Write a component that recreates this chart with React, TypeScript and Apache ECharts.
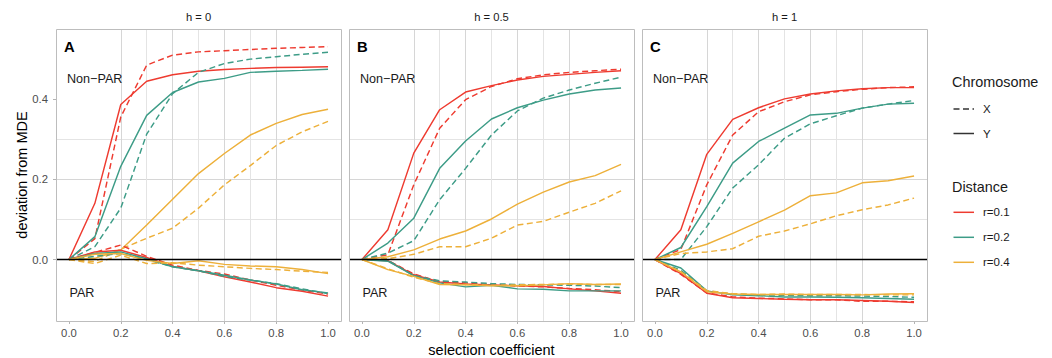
import React, { useEffect, useRef } from "react";
import * as echarts from "echarts";

// ---------- data ----------
const selection = [0, 0.1, 0.2, 0.3, 0.4, 0.5, 0.6, 0.7, 0.8, 0.9, 1.0];
const facetLabels = ["h = 0", "h = 0.5", "h = 1"];
const panelTags = ["A", "B", "C"];
const distanceLabels = ["r=0.1", "r=0.2", "r=0.4"];
const chromosomeLabels = ["X", "Y"];
const xTickValues = [0, 0.2, 0.4, 0.6, 0.8, 1.0];
const xMinorValues = [0.1, 0.3, 0.5, 0.7, 0.9];
const yTickValues = [0, 0.2, 0.4];
const yMinorValues = [-0.1, 0.1, 0.3, 0.5];
const xRange = [-0.05, 1.05];
const yRange = [-0.153, 0.574];

// h = 0
const h0_nonPAR_X_r01 = [0, 0.052, 0.355, 0.484, 0.509, 0.517, 0.52, 0.523, 0.526, 0.528, 0.53];
const h0_nonPAR_Y_r01 = [0, 0.14, 0.386, 0.444, 0.46, 0.469, 0.473, 0.476, 0.478, 0.479, 0.48];
const h0_nonPAR_X_r02 = [0, 0.032, 0.128, 0.312, 0.413, 0.466, 0.488, 0.499, 0.505, 0.511, 0.516];
const h0_nonPAR_Y_r02 = [0, 0.057, 0.232, 0.359, 0.416, 0.442, 0.451, 0.466, 0.469, 0.471, 0.474];
const h0_nonPAR_X_r04 = [0, -0.005, 0.026, 0.053, 0.078, 0.128, 0.186, 0.234, 0.284, 0.318, 0.344];
const h0_nonPAR_Y_r04 = [0, 0.003, 0.024, 0.086, 0.15, 0.214, 0.264, 0.31, 0.339, 0.361, 0.374];
const h0_PAR_X_r01 = [0, 0.018, 0.036, 0.008, -0.014, -0.027, -0.036, -0.051, -0.064, -0.076, -0.086];
const h0_PAR_Y_r01 = [0, 0.019, 0.023, 0.005, -0.017, -0.028, -0.043, -0.056, -0.07, -0.079, -0.091];
const h0_PAR_X_r02 = [0, 0.008, 0.015, 0.0, -0.018, -0.028, -0.042, -0.051, -0.06, -0.073, -0.085];
const h0_PAR_Y_r02 = [0, 0.015, 0.019, 0.002, -0.018, -0.028, -0.039, -0.051, -0.061, -0.075, -0.083];
const h0_PAR_X_r04 = [0, -0.01, 0.011, -0.01, -0.008, -0.014, -0.018, -0.022, -0.025, -0.029, -0.032];
const h0_PAR_Y_r04 = [0, 0.013, 0.015, -0.002, -0.01, -0.003, -0.012, -0.016, -0.018, -0.025, -0.035];

// h = 0.5
const h05_nonPAR_X_r01 = [0, 0.012, 0.186, 0.327, 0.398, 0.431, 0.45, 0.46, 0.466, 0.47, 0.474];
const h05_nonPAR_Y_r01 = [0, 0.074, 0.265, 0.373, 0.417, 0.433, 0.447, 0.456, 0.461, 0.466, 0.47];
const h05_nonPAR_X_r02 = [0, 0.016, 0.047, 0.149, 0.227, 0.31, 0.37, 0.402, 0.422, 0.439, 0.454];
const h05_nonPAR_Y_r02 = [0, 0.041, 0.103, 0.227, 0.295, 0.35, 0.378, 0.397, 0.412, 0.422, 0.427];
const h05_nonPAR_X_r04 = [0, 0.002, 0.013, 0.032, 0.032, 0.053, 0.086, 0.095, 0.118, 0.14, 0.171];
const h05_nonPAR_Y_r04 = [0, 0.007, 0.024, 0.051, 0.071, 0.101, 0.138, 0.168, 0.193, 0.209, 0.237];
const h05_PAR_X_r01 = [0, -0.002, -0.036, -0.055, -0.058, -0.062, -0.066, -0.068, -0.072, -0.075, -0.08];
const h05_PAR_Y_r01 = [0, -0.003, -0.038, -0.056, -0.061, -0.063, -0.065, -0.067, -0.073, -0.078, -0.084];
const h05_PAR_X_r02 = [0, -0.002, -0.04, -0.053, -0.056, -0.06, -0.062, -0.063, -0.064, -0.066, -0.07];
const h05_PAR_Y_r02 = [0, -0.004, -0.04, -0.058, -0.068, -0.064, -0.073, -0.074, -0.078, -0.078, -0.078];
const h05_PAR_X_r04 = [0, -0.023, -0.044, -0.06, -0.062, -0.064, -0.063, -0.062, -0.061, -0.062, -0.062];
const h05_PAR_Y_r04 = [0, -0.025, -0.042, -0.062, -0.063, -0.065, -0.065, -0.063, -0.06, -0.062, -0.061];

// h = 1
const h1_nonPAR_X_r01 = [0, 0.025, 0.186, 0.31, 0.368, 0.393, 0.41, 0.418, 0.424, 0.428, 0.43];
const h1_nonPAR_Y_r01 = [0, 0.074, 0.262, 0.349, 0.378, 0.4, 0.412, 0.42, 0.425, 0.428, 0.428];
const h1_nonPAR_X_r02 = [0, 0.0, 0.082, 0.178, 0.236, 0.302, 0.338, 0.358, 0.377, 0.387, 0.396];
const h1_nonPAR_Y_r02 = [0, 0.03, 0.132, 0.24, 0.294, 0.327, 0.36, 0.364, 0.377, 0.387, 0.389];
const h1_nonPAR_X_r04 = [0, 0.015, 0.019, 0.027, 0.058, 0.071, 0.089, 0.109, 0.124, 0.136, 0.153];
const h1_nonPAR_Y_r04 = [0, 0.019, 0.038, 0.065, 0.094, 0.123, 0.159, 0.166, 0.191, 0.196, 0.208];
const h1_PAR_X_r01 = [0, -0.037, -0.083, -0.093, -0.096, -0.098, -0.1, -0.1, -0.104, -0.104, -0.105];
const h1_PAR_Y_r01 = [0, -0.035, -0.084, -0.095, -0.097, -0.099, -0.1, -0.1, -0.102, -0.104, -0.107];
const h1_PAR_X_r02 = [0, -0.027, -0.078, -0.086, -0.088, -0.089, -0.09, -0.09, -0.091, -0.092, -0.094];
const h1_PAR_Y_r02 = [0, -0.021, -0.078, -0.088, -0.09, -0.093, -0.093, -0.094, -0.095, -0.097, -0.099];
const h1_PAR_X_r04 = [0, -0.03, -0.077, -0.085, -0.087, -0.086, -0.087, -0.087, -0.087, -0.088, -0.088];
const h1_PAR_Y_r04 = [0, -0.031, -0.08, -0.086, -0.087, -0.087, -0.087, -0.087, -0.088, -0.086, -0.085];

// table: panel -> region -> distance -> chromosome
const table = [
  [
    [[h0_nonPAR_X_r01, h0_nonPAR_Y_r01], [h0_nonPAR_X_r02, h0_nonPAR_Y_r02], [h0_nonPAR_X_r04, h0_nonPAR_Y_r04]],
    [[h0_PAR_X_r01, h0_PAR_Y_r01], [h0_PAR_X_r02, h0_PAR_Y_r02], [h0_PAR_X_r04, h0_PAR_Y_r04]],
  ],
  [
    [[h05_nonPAR_X_r01, h05_nonPAR_Y_r01], [h05_nonPAR_X_r02, h05_nonPAR_Y_r02], [h05_nonPAR_X_r04, h05_nonPAR_Y_r04]],
    [[h05_PAR_X_r01, h05_PAR_Y_r01], [h05_PAR_X_r02, h05_PAR_Y_r02], [h05_PAR_X_r04, h05_PAR_Y_r04]],
  ],
  [
    [[h1_nonPAR_X_r01, h1_nonPAR_Y_r01], [h1_nonPAR_X_r02, h1_nonPAR_Y_r02], [h1_nonPAR_X_r04, h1_nonPAR_Y_r04]],
    [[h1_PAR_X_r01, h1_PAR_Y_r01], [h1_PAR_X_r02, h1_PAR_Y_r02], [h1_PAR_X_r04, h1_PAR_Y_r04]],
  ],
];

// ---------- styles / layout ----------
const FONT = "'Liberation Sans', Arial, Helvetica, sans-serif";
const distanceColors = ["#EE3B30", "#3D9C87", "#EDB03A"];
const DASH = [6, 3.5];
const PANEL_LEFT = [56, 349, 642];
const PANEL_W = 285;
const PANEL_TOP = 29;
const PANEL_H = 292;
const BORDER = "#BDBDBD";
const MAJOR_GRID = "#D6D6D6";
const MINOR_GRID = "#E4E4E4";

const fmt = (v: number) => {
  const k = v / 0.2;
  if (Math.abs(k - Math.round(k)) > 1e-6) return "";
  const s = (Math.round(v * 10) / 10).toFixed(1);
  return s === "-0.0" ? "0.0" : s;
};

function buildOption() {
  const grids: any[] = [];
  const xAxes: any[] = [];
  const yAxes: any[] = [];
  const series: any[] = [];
  const graphic: any[] = [];

  for (let p = 0; p < 3; p++) {
    grids.push({
      left: PANEL_LEFT[p],
      top: PANEL_TOP,
      width: PANEL_W,
      height: PANEL_H,
      containLabel: false,
      show: true,
      backgroundColor: "#ffffff",
      borderWidth: 0,
    });
  }
  // minor axes first (indices 0..2)
  for (let p = 0; p < 3; p++) {
    xAxes.push({
      type: "value",
      gridIndex: p,
      position: "bottom",
      min: xRange[0],
      max: xRange[1],
      splitNumber: 11,
      minInterval: 0.1,
      maxInterval: 0.1,
      axisLine: { show: false, onZero: false },
      axisTick: { show: false, customValues: xMinorValues },
      axisLabel: { show: false, customValues: xMinorValues },
      splitLine: { show: true, showMinLine: false, showMaxLine: false, lineStyle: { color: MINOR_GRID, width: 1 } },
    });
    yAxes.push({
      type: "value",
      gridIndex: p,
      position: "left",
      min: yRange[0],
      max: yRange[1],
      splitNumber: 7,
      minInterval: 0.1,
      maxInterval: 0.1,
      axisLine: { show: false, onZero: false },
      axisTick: { show: false, customValues: yMinorValues },
      axisLabel: { show: false, customValues: yMinorValues },
      splitLine: { show: true, showMinLine: false, showMaxLine: false, lineStyle: { color: MINOR_GRID, width: 1 } },
    });
  }
  // major axes (indices 3..5)
  for (let p = 0; p < 3; p++) {
    xAxes.push({
      type: "value",
      gridIndex: p,
      position: "bottom",
      min: xRange[0],
      max: xRange[1],
      splitNumber: 5,
      minInterval: 0.2,
      maxInterval: 0.2,
      axisLine: { show: false, onZero: false },
      axisTick: { show: true, length: 3, customValues: xTickValues, lineStyle: { color: "#B3B3B3", width: 1 } },
      axisLabel: {
        show: true,
        customValues: xTickValues,
        formatter: fmt,
        margin: 6,
        color: "#4D4D4D",
        fontSize: 11.3,
        fontFamily: FONT,
      },
      splitLine: { show: true, showMinLine: false, showMaxLine: false, lineStyle: { color: MAJOR_GRID, width: 1 } },
    });
    yAxes.push({
      type: "value",
      gridIndex: p,
      position: "left",
      min: yRange[0],
      max: yRange[1],
      splitNumber: 4,
      minInterval: 0.2,
      maxInterval: 0.2,
      axisLine: { show: false, onZero: false },
      axisTick: { show: p === 0, length: 3, customValues: yTickValues, lineStyle: { color: "#B3B3B3", width: 1 } },
      axisLabel: {
        show: p === 0,
        customValues: yTickValues,
        formatter: fmt,
        margin: 8,
        color: "#4D4D4D",
        fontSize: 11.3,
        fontFamily: FONT,
      },
      splitLine: { show: true, showMinLine: false, showMaxLine: false, lineStyle: { color: MAJOR_GRID, width: 1 } },
    });
  }

  for (let p = 0; p < 3; p++) {
    // zero reference line
    series.push({
      type: "line",
      xAxisIndex: 3 + p,
      yAxisIndex: 3 + p,
      data: [],
      silent: true,
      z: 2,
      markLine: {
        silent: true,
        symbol: "none",
        label: { show: false },
        lineStyle: { color: "#000000", width: 1.3, type: "solid" },
        emphasis: { disabled: true },
        data: [{ yAxis: 0 }],
      },
    });
    for (let region = 0; region < 2; region++) {
      for (let d = 0; d < 3; d++) {
        for (let c = 0; c < 2; c++) {
          const vals = table[p][region][d][c];
          series.push({
            type: "line",
            name: `${facetLabels[p]} ${region === 0 ? "Non-PAR" : "PAR"} ${chromosomeLabels[c]} ${distanceLabels[d]}`,
            xAxisIndex: 3 + p,
            yAxisIndex: 3 + p,
            data: selection.map((s, i) => [s, vals[i]]),
            showSymbol: false,
            symbol: "none",
            silent: true,
            z: 3,
            lineStyle: {
              color: distanceColors[d],
              width: 1.45,
              type: c === 0 ? DASH : "solid",
            },
            emphasis: { disabled: true },
          });
        }
      }
    }

    const L = PANEL_LEFT[p];
    graphic.push({
      type: "rect",
      shape: { x: L + 0.5, y: PANEL_TOP + 0.5, width: PANEL_W, height: PANEL_H },
      style: { fill: "none", stroke: BORDER, lineWidth: 1 },
      z: 100,
      silent: true,
    });
    graphic.push({
      type: "text",
      x: L + PANEL_W / 2,
      y: 17,
      style: { text: facetLabels[p], fontSize: 11.2, fontFamily: FONT, fill: "#1A1A1A", textAlign: "center", textVerticalAlign: "middle" },
      z: 100,
    });
    graphic.push({
      type: "text",
      x: L + 8,
      y: 47,
      style: { text: panelTags[p], fontSize: 14.8, fontWeight: "bold", fontFamily: FONT, fill: "#000000", textAlign: "left", textVerticalAlign: "middle" },
      z: 100,
    });
    graphic.push({
      type: "text",
      x: L + 11,
      y: 78.5,
      style: { text: "Non\u2212PAR", fontSize: 12.6, fontFamily: FONT, fill: "#1A1A1A", textAlign: "left", textVerticalAlign: "middle" },
      z: 100,
    });
    graphic.push({
      type: "text",
      x: L + 13.5,
      y: 292.5,
      style: { text: "PAR", fontSize: 12.6, fontFamily: FONT, fill: "#1A1A1A", textAlign: "left", textVerticalAlign: "middle" },
      z: 100,
    });
  }

  // axis titles
  graphic.push({
    type: "text",
    x: (PANEL_LEFT[0] + PANEL_LEFT[2] + PANEL_W) / 2,
    y: 349.5,
    style: { text: "selection coefficient", fontSize: 14.5, fontFamily: FONT, fill: "#000000", textAlign: "center", textVerticalAlign: "middle" },
    z: 100,
  });
  graphic.push({
    type: "text",
    x: 21.5,
    y: PANEL_TOP + PANEL_H / 2,
    rotation: Math.PI / 2,
    style: { text: "deviation from MDE", fontSize: 14.5, fontFamily: FONT, fill: "#000000", textAlign: "center", textVerticalAlign: "middle" },
    z: 100,
  });

  // legend
  const LX = 952;
  graphic.push({
    type: "text",
    x: LX,
    y: 82,
    style: { text: "Chromosome", fontSize: 14.4, fontFamily: FONT, fill: "#1A1A1A", textAlign: "left", textVerticalAlign: "middle" },
  });
  const chromY = [109, 133.5];
  chromosomeLabels.forEach((lab, i) => {
    graphic.push({
      type: "line",
      shape: { x1: LX + 1.5, y1: chromY[i], x2: LX + 22, y2: chromY[i] },
      style: { stroke: "#333333", lineWidth: 1.5, lineDash: i === 0 ? DASH : null },
    });
    graphic.push({
      type: "text",
      x: LX + 31,
      y: chromY[i],
      style: { text: lab, fontSize: 11.5, fontFamily: FONT, fill: "#1A1A1A", textAlign: "left", textVerticalAlign: "middle" },
    });
  });
  graphic.push({
    type: "text",
    x: LX,
    y: 186.5,
    style: { text: "Distance", fontSize: 14.4, fontFamily: FONT, fill: "#1A1A1A", textAlign: "left", textVerticalAlign: "middle" },
  });
  const distY = [212.3, 237.3, 262.3];
  distanceLabels.forEach((lab, i) => {
    graphic.push({
      type: "line",
      shape: { x1: LX + 1.5, y1: distY[i], x2: LX + 22, y2: distY[i] },
      style: { stroke: distanceColors[i], lineWidth: 1.5 },
    });
    graphic.push({
      type: "text",
      x: LX + 31,
      y: distY[i],
      style: { text: lab, fontSize: 11.5, fontFamily: FONT, fill: "#1A1A1A", textAlign: "left", textVerticalAlign: "middle" },
    });
  });

  return {
    animation: false,
    backgroundColor: "#ffffff",
    textStyle: { fontFamily: FONT },
    grid: grids,
    xAxis: xAxes,
    yAxis: yAxes,
    series,
    graphic,
  };
}

export default function App() {
  const ref = useRef<HTMLDivElement>(null);
  useEffect(() => {
    document.body.style.margin = "0";
    if (!ref.current) return;
    const chart = echarts.init(ref.current, undefined, { renderer: "svg" });
    chart.setOption(buildOption() as any);
    return () => chart.dispose();
  }, []);
  return <div ref={ref} style={{ width: 1052, height: 358 }} />;
}
